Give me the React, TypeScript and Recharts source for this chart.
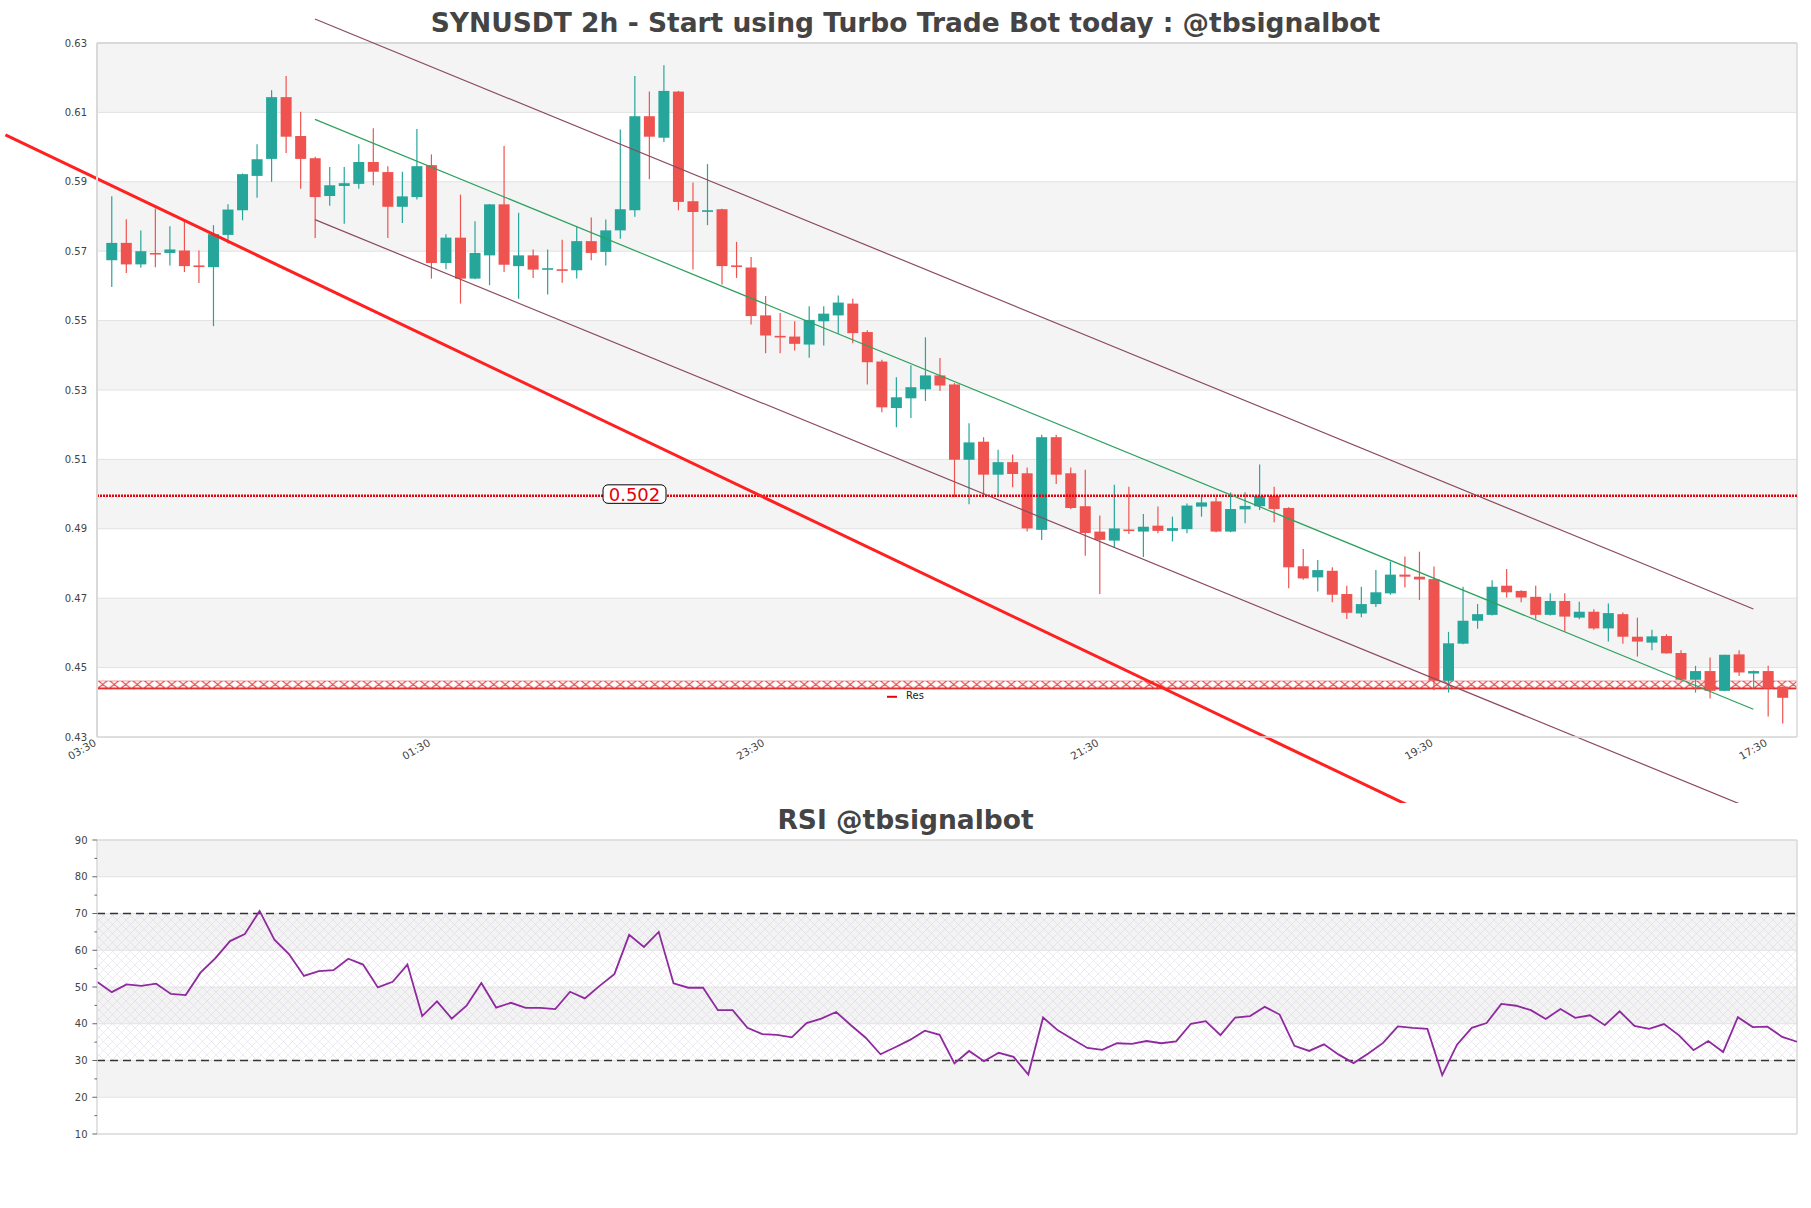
import {
    ComposedChart,
    Bar,
    Line,
    XAxis,
    YAxis,
    CartesianGrid,
    ReferenceLine,
    ReferenceArea,
} from "recharts";

// 2h candles, oldest first
const opens = [
    0.5674, 0.5724, 0.5662, 0.5695, 0.5695, 0.5702, 0.5659, 0.5654, 0.5747, 0.5818,
    0.5917, 0.5966, 0.6144, 0.6032, 0.5968, 0.5859, 0.5888, 0.5894, 0.5957, 0.5928,
    0.5828, 0.5856, 0.5948, 0.5666, 0.5739, 0.5621, 0.5688, 0.5835, 0.5657, 0.5688,
    0.5649, 0.5648, 0.5645, 0.5729, 0.5698, 0.576, 0.5818, 0.6089, 0.6027, 0.616,
    0.5844, 0.5816, 0.5821, 0.5659, 0.5653, 0.5515, 0.5456, 0.5454, 0.5431, 0.5498,
    0.5515, 0.5549, 0.5467, 0.5382, 0.5248, 0.5276, 0.5302, 0.5342, 0.5316, 0.5099,
    0.5151, 0.5056, 0.5092, 0.506, 0.4897, 0.5164, 0.506, 0.4965, 0.4892, 0.4866,
    0.4898, 0.4892, 0.4909, 0.4894, 0.4899, 0.4964, 0.4979, 0.4892, 0.4956, 0.4965,
    0.4995, 0.496, 0.4792, 0.476, 0.4779, 0.4712, 0.4656, 0.4683, 0.4714, 0.4768,
    0.4762, 0.4755, 0.4462, 0.4569, 0.4635, 0.4652, 0.4736, 0.4721, 0.4704, 0.4652,
    0.4692, 0.4644, 0.4661, 0.4613, 0.4654, 0.4589, 0.4572, 0.4591, 0.4542, 0.4465,
    0.449, 0.4433, 0.4538, 0.4483, 0.449, 0.4445,
];
const highs = [
    0.5858, 0.5792, 0.576, 0.5823, 0.5772, 0.5786, 0.5702, 0.5775, 0.5835, 0.5924,
    0.6008, 0.6164, 0.6205, 0.6102, 0.5972, 0.5943, 0.5943, 0.6008, 0.6054, 0.5945,
    0.5929, 0.6052, 0.5979, 0.5749, 0.5863, 0.5786, 0.5836, 0.6003, 0.5811, 0.5705,
    0.5705, 0.5733, 0.577, 0.5797, 0.5791, 0.6051, 0.6205, 0.616, 0.6236, 0.6162,
    0.5898, 0.5951, 0.5822, 0.5727, 0.5683, 0.5571, 0.5522, 0.5498, 0.5541, 0.5541,
    0.5572, 0.5563, 0.5472, 0.5387, 0.5337, 0.5371, 0.5452, 0.5392, 0.532, 0.5204,
    0.5164, 0.5128, 0.5114, 0.5077, 0.5171, 0.5171, 0.5077, 0.507, 0.4938, 0.5027,
    0.5021, 0.4943, 0.4964, 0.4935, 0.4973, 0.4995, 0.4991, 0.5005, 0.5005, 0.5085,
    0.5021, 0.4962, 0.4842, 0.481, 0.4789, 0.4736, 0.4733, 0.4781, 0.4806, 0.482,
    0.4834, 0.4791, 0.4603, 0.4733, 0.4683, 0.4752, 0.4784, 0.4723, 0.4736, 0.4714,
    0.4714, 0.469, 0.4668, 0.4685, 0.4659, 0.4644, 0.4609, 0.4596, 0.455, 0.4505,
    0.4529, 0.4537, 0.455, 0.4492, 0.4505, 0.4445,
];
const lows = [
    0.5597, 0.5637, 0.5652, 0.5654, 0.5659, 0.564, 0.5608, 0.5484, 0.5722, 0.5789,
    0.5854, 0.59, 0.5983, 0.588, 0.5738, 0.5831, 0.5779, 0.588, 0.589, 0.5738,
    0.5781, 0.5849, 0.5621, 0.5648, 0.5549, 0.5619, 0.5602, 0.564, 0.5563, 0.5623,
    0.5575, 0.5609, 0.5621, 0.5674, 0.5659, 0.5736, 0.5799, 0.5907, 0.6015, 0.5818,
    0.5647, 0.5775, 0.5604, 0.5623, 0.5489, 0.5406, 0.5406, 0.5414, 0.5393, 0.5428,
    0.5462, 0.5435, 0.5316, 0.5236, 0.5193, 0.5219, 0.5268, 0.5297, 0.4991, 0.4971,
    0.4991, 0.4991, 0.502, 0.4892, 0.4868, 0.5029, 0.4957, 0.4822, 0.4712, 0.4845,
    0.4885, 0.4819, 0.4887, 0.4864, 0.4887, 0.4935, 0.489, 0.489, 0.4916, 0.4954,
    0.4919, 0.4729, 0.4753, 0.4719, 0.4688, 0.464, 0.4645, 0.4675, 0.471, 0.4731,
    0.4695, 0.4435, 0.4428, 0.4567, 0.4612, 0.465, 0.4702, 0.4688, 0.464, 0.465,
    0.4604, 0.4639, 0.4609, 0.4575, 0.4569, 0.4532, 0.455, 0.454, 0.4463, 0.4428,
    0.4411, 0.4432, 0.4476, 0.444, 0.4359, 0.4339,
];
const closes = [
    0.5724, 0.5662, 0.57, 0.5693, 0.5705, 0.5657, 0.5657, 0.5749, 0.582, 0.5922,
    0.5965, 0.6144, 0.603, 0.5966, 0.5856, 0.589, 0.5896, 0.5957, 0.5929, 0.5828,
    0.5858, 0.5945, 0.5666, 0.5739, 0.5621, 0.5695, 0.5835, 0.5661, 0.5688, 0.5647,
    0.5651, 0.5646, 0.5729, 0.5695, 0.576, 0.5821, 0.6089, 0.603, 0.6162, 0.5842,
    0.5813, 0.5818, 0.5657, 0.5657, 0.5513, 0.5457, 0.5454, 0.5433, 0.5502, 0.552,
    0.5552, 0.5464, 0.538, 0.525, 0.5279, 0.5308, 0.5342, 0.5313, 0.5099, 0.5149,
    0.5056, 0.5092, 0.5058, 0.4901, 0.5164, 0.5056, 0.496, 0.4888, 0.4868, 0.4901,
    0.4896, 0.4906, 0.4894, 0.4902, 0.4967, 0.4976, 0.4892, 0.4957, 0.4966, 0.4995,
    0.4957, 0.4789, 0.4757, 0.4781, 0.471, 0.4658, 0.4683, 0.4717, 0.4768, 0.4762,
    0.4754, 0.4462, 0.457, 0.4635, 0.4654, 0.4733, 0.4717, 0.4702, 0.4652, 0.4692,
    0.4647, 0.4661, 0.4613, 0.4657, 0.4589, 0.4575, 0.459, 0.4541, 0.4465, 0.449,
    0.4433, 0.4537, 0.4486, 0.449, 0.444, 0.4413,
];

const rsiValues = [
    51.4, 48.6, 50.7, 50.3, 50.9, 48.1, 47.8, 53.9, 57.8, 62.5,
    64.4, 70.7, 62.9, 58.9, 53.0, 54.3, 54.6, 57.7, 56.1, 49.9,
    51.4, 56.1, 42.1, 46.1, 41.4, 44.9, 51.1, 44.4, 45.7, 44.3,
    44.3, 44.0, 48.7, 46.9, 50.3, 53.5, 64.2, 60.9, 65.0, 51.0,
    49.8, 49.8, 43.7, 43.7, 38.9, 37.2, 37.0, 36.3, 40.2, 41.4,
    43.2, 39.6, 36.2, 31.7, 33.6, 35.6, 38.1, 37.0, 29.2, 32.6,
    29.8, 32.1, 31.0, 26.2, 41.7, 38.2, 35.8, 33.4, 32.9, 34.7,
    34.5, 35.3, 34.7, 35.2, 40.0, 40.7, 36.9, 41.7, 42.1, 44.6,
    42.5, 34.0, 32.6, 34.4, 31.6, 29.3, 31.9, 34.8, 39.3, 38.9,
    38.6, 26.0, 34.3, 38.9, 40.2, 45.4, 44.9, 43.7, 41.3, 44.0,
    41.6, 42.3, 39.6, 43.4, 39.4, 38.6, 39.9, 36.9, 32.8, 35.3,
    32.3, 41.8, 39.1, 39.2, 36.4, 35.1,
];

const timeTicks = [-1, 22, 45, 68, 91, 114];
const timeLabels = ["03:30", "01:30", "23:30", "21:30", "19:30", "17:30"];
const priceTicks = [0.43, 0.45, 0.47, 0.49, 0.51, 0.53, 0.55, 0.57, 0.59, 0.61, 0.63];
const rsiTicks = [10, 15, 20, 25, 30, 35, 40, 45, 50, 55, 60, 65, 70, 75, 80, 85, 90];
const rsiBands = [[80, 90], [60, 70], [40, 50], [20, 30]];
const rsiGrid = [20, 30, 40, 50, 60, 70, 80];
const rsiLevels = [30, 70];

// channel and trend lines (candle index, price)
const channelX = [14, 113];
const channelUpper = [0.6369, 0.4669];
const channelMid = [0.608, 0.438];
const channelLower = [0.5791, 0.4091];
const trendX = [-7.3, 90];
const trendY = [0.6035, 0.4088];

const supportLevel = 0.4995;
const supportLabel = "0.502";
const resBand = [0.4437, 0.4462];

const candles = opens.map((o, i) => ({
    i,
    open: o,
    high: highs[i],
    low: lows[i],
    close: closes[i],
}));
const rsiData = rsiValues.map((v, i) => ({ i, rsi: v }));

const FONT = "DejaVu Sans";
const UP = "#26a69a";
const DOWN = "#ef5350";

function Candle(props: any) {
    const { x, y, width, height, payload } = props;
    const { open, close, high, low } = payload;
    const color = close >= open ? UP : DOWN;
    const span = high - low;
    const toY = (v: number) => (span > 0 ? y + ((high - v) / span) * height : y);
    const cx = x + width / 2;
    const top = toY(Math.max(open, close));
    const bot = toY(Math.min(open, close));
    return (
        <g>
            <line x1={cx} x2={cx} y1={y} y2={y + height} stroke={color} strokeWidth={1.2} />
            <rect x={x} y={top} width={width} height={Math.max(bot - top, 1.6)} fill={color} />
        </g>
    );
}

function TimeTick({ x, y, payload }: any) {
    const k = timeTicks.indexOf(payload.value);
    return (
        <text
            x={x}
            y={y}
            transform={`rotate(-30 ${x} ${y})`}
            textAnchor="end"
            fontSize={10.5}
            fill="#444"
            fontFamily={FONT}
        >
            {timeLabels[k]}
        </text>
    );
}

function RsiTick({ x, y, payload }: any) {
    const major = payload.value % 10 === 0;
    return (
        <g>
            <line x1={x - (major ? 4.6 : 2.6)} x2={x} y1={y} y2={y} stroke="#666" strokeWidth={1} />
            {major && (
                <text x={x - 9.5} y={y} dy="0.35em" textAnchor="end" fontSize={10} fill="#444" fontFamily={FONT}>
                    {payload.value}
                </text>
            )}
        </g>
    );
}

function SupportTag({ viewBox }: any) {
    const bx = viewBox.x + 506;
    const by = viewBox.y;
    return (
        <g>
            <rect x={bx} y={by - 11} width={63} height={18.5} rx={5} fill="#fff" stroke="#000" strokeWidth={1} />
            <text x={bx + 31.5} y={by + 5.5} textAnchor="middle" fontSize={18} fill="#e8000b" fontFamily={FONT}>
                {supportLabel}
            </text>
        </g>
    );
}

function ResLegend({ viewBox }: any) {
    const lx = viewBox.x + 790;
    const ly = viewBox.y + 16;
    return (
        <g>
            <line x1={lx} x2={lx + 10} y1={ly} y2={ly} stroke="#e8000b" strokeWidth={2} />
            <text x={lx + 19} y={ly + 2.5} fontSize={10} fill="#222" fontFamily={FONT}>
                Res
            </text>
        </g>
    );
}

export default function App() {
    return (
        <div style={{ position: "absolute", left: 0, top: 0, width: 1811, height: 1208, background: "#fff" }}>
            <div style={{ position: "absolute", left: 0, top: 0 }}>
                <ComposedChart
                    width={1811}
                    height={803}
                    data={candles}
                    margin={{ top: 43, right: 14, bottom: 0, left: 0 }}
                >
                    <defs>
                        <pattern id="resHatch" patternUnits="userSpaceOnUse" x={97} y={680} width={11.5} height={8.6}>
                            <path
                                d="M0,0.6 H11.5 M0,8 H11.5 M1,0.6 L10.5,8 M10.5,0.6 L1,8"
                                stroke="#e03030"
                                strokeWidth={1.1}
                                fill="none"
                            />
                        </pattern>
                    </defs>
                    <CartesianGrid vertical={false} horizontalFill={["#f4f4f4", "#ffffff"]} stroke="#e2e2e2" />
                    <XAxis
                        type="number"
                        dataKey="i"
                        domain={[-1, 116]}
                        ticks={timeTicks}
                        interval={0}
                        height={66}
                        tickSize={0}
                        tickMargin={8}
                        tickLine={false}
                        tick={<TimeTick />}
                        axisLine={{ stroke: "#d9d9d9", strokeWidth: 1.5 }}
                        allowDataOverflow
                    />
                    <YAxis
                        type="number"
                        domain={[0.43, 0.63]}
                        ticks={priceTicks}
                        width={97}
                        tickSize={0}
                        tickMargin={10}
                        tickLine={false}
                        axisLine={{ stroke: "#d9d9d9", strokeWidth: 2 }}
                        tick={{ fontSize: 10, fill: "#444", fontFamily: FONT }}
                        tickFormatter={(v: number) => v.toFixed(2)}
                        allowDataOverflow
                    />
                    <ReferenceLine y={0.63} stroke="#d9d9d9" strokeWidth={2} />
                    <ReferenceLine x={116} stroke="#d9d9d9" strokeWidth={1.5} />
                    <Bar
                        dataKey={(d: any) => [d.low, d.high]}
                        barSize={11}
                        shape={<Candle />}
                        isAnimationActive={false}
                    />
                    <ReferenceArea
                        y1={resBand[0]}
                        y2={resBand[1]}
                        fill="url(#resHatch)"
                        fillOpacity={1}
                        label={<ResLegend />}
                    />
                    <ReferenceLine
                        y={supportLevel}
                        stroke="#e8000b"
                        strokeWidth={2.5}
                        strokeDasharray="2 1"
                        label={<SupportTag />}
                    />
                    <ReferenceLine
                        segment={[{ x: channelX[0], y: channelUpper[0] }, { x: channelX[1], y: channelUpper[1] }]}
                        stroke="#8c4a5c"
                        strokeWidth={1.2}
                        ifOverflow="visible"
                    />
                    <ReferenceLine
                        segment={[{ x: channelX[0], y: channelMid[0] }, { x: channelX[1], y: channelMid[1] }]}
                        stroke="#2ea05e"
                        strokeWidth={1.2}
                        ifOverflow="visible"
                    />
                    <ReferenceLine
                        segment={[{ x: channelX[0], y: channelLower[0] }, { x: channelX[1], y: channelLower[1] }]}
                        stroke="#8c4a5c"
                        strokeWidth={1.2}
                        ifOverflow="visible"
                    />
                    <ReferenceLine
                        segment={[{ x: trendX[0], y: trendY[0] }, { x: trendX[1], y: trendY[1] }]}
                        stroke="#ff2020"
                        strokeWidth={3}
                        ifOverflow="visible"
                    />
                </ComposedChart>
            </div>

            <div style={{ position: "absolute", left: 0, top: 803 }}>
                <ComposedChart
                    width={1811}
                    height={405}
                    data={rsiData}
                    margin={{ top: 37, right: 14, bottom: 74, left: 0 }}
                >
                    <defs>
                        <pattern id="rsiHatch" patternUnits="userSpaceOnUse" width={9} height={9}>
                            <path
                                d="M0,0 L9,9 M9,0 L0,9"
                                stroke="#cfc4d8"
                                strokeWidth={0.6}
                                fill="none"
                            />
                        </pattern>
                    </defs>
                    {rsiBands.map(([a, b]) => (
                        <ReferenceArea key={a} y1={a} y2={b} fill="#f3f3f3" fillOpacity={1} />
                    ))}
                    {rsiGrid.map((g) => (
                        <ReferenceLine key={g} y={g} stroke="#e2e2e2" strokeWidth={1} />
                    ))}
                    <ReferenceArea y1={rsiLevels[0]} y2={rsiLevels[1]} fill="url(#rsiHatch)" fillOpacity={0.6} />
                    <XAxis type="number" dataKey="i" domain={[0, 115]} hide />
                    <YAxis
                        type="number"
                        domain={[10, 90]}
                        ticks={rsiTicks}
                        interval={0}
                        width={97}
                        tickSize={0}
                        tickMargin={0}
                        tickLine={false}
                        tick={<RsiTick />}
                        axisLine={{ stroke: "#d9d9d9", strokeWidth: 1.5 }}
                    />
                    <ReferenceLine y={90} stroke="#d9d9d9" strokeWidth={1.5} />
                    <ReferenceLine y={10} stroke="#d9d9d9" strokeWidth={1.5} />
                    <ReferenceLine x={115} stroke="#d9d9d9" strokeWidth={1.5} />
                    {rsiLevels.map((lv) => (
                        <ReferenceLine key={lv} y={lv} stroke="#333" strokeWidth={1.3} strokeDasharray="8 5" />
                    ))}
                    <Line
                        type="linear"
                        dataKey="rsi"
                        stroke="#8e2a9e"
                        strokeWidth={1.8}
                        dot={false}
                        isAnimationActive={false}
                    />
                </ComposedChart>
            </div>

            <svg width={1811} height={1208} style={{ position: "absolute", left: 0, top: 0, pointerEvents: "none" }}>
                <text x={905.5} y={32} textAnchor="middle" fontSize={26.5} fontWeight="bold" fill="#444" fontFamily={FONT}>
                    SYNUSDT 2h - Start using Turbo Trade Bot today : @tbsignalbot
                </text>
                <text x={905.5} y={829} textAnchor="middle" fontSize={26.5} fontWeight="bold" fill="#444" fontFamily={FONT}>
                    RSI @tbsignalbot
                </text>
            </svg>
        </div>
    );
}
